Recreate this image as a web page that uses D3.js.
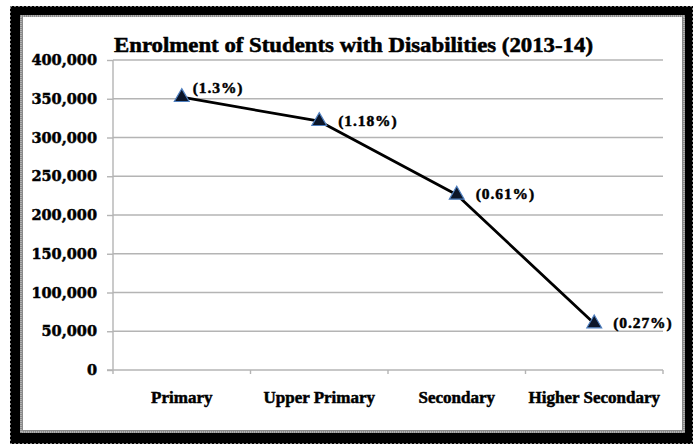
<!DOCTYPE html>
<html>
<head>
<meta charset="utf-8">
<script src="https://cdn.jsdelivr.net/npm/d3@7"></script>
<style>
  html, body { margin: 0; padding: 0; background: #fff; }
  svg { display: block; }
</style>
</head>
<body>
<svg id="chart" width="694" height="448"></svg>
<script>
// Enrolment of students with disabilities by school level, 2013-14
const categories = ["Primary", "Upper Primary", "Secondary", "Higher Secondary"];
const enrolment = [352000, 321000, 226000, 60000];
const shareLabels = ["(1.3%)", "(1.18%)", "(0.61%)", "(0.27%)"];
const yTickValues = [0, 50000, 100000, 150000, 200000, 250000, 300000, 350000, 400000];
const chartTitle = "Enrolment of Students with Disabilities (2013-14)";

const svg = d3.select("#chart");
const plot = { left: 113, right: 663, top: 60, bottom: 370 };
const grid = "#b4b4b4";
const serif = "'Liberation Serif', 'Times New Roman', serif";

// Heavy lettering used throughout the chart
function heavy(sel, size, family) {
  sel.attr("font-family", family || serif)
    .attr("font-weight", "bold")
    .attr("font-size", size)
    .attr("fill", "#000")
    .attr("stroke", "#000")
    .attr("stroke-width", 0.5)
    .attr("paint-order", "stroke");
}

// Picture frame: heavy black band with a fine grey inner rule
svg.append("rect").attr("x", 10).attr("y", 6).attr("width", 683).attr("height", 438)
  .attr("fill", "#000");
svg.append("rect").attr("x", 10.5).attr("y", 6.5).attr("width", 682).attr("height", 437)
  .attr("fill", "none").attr("stroke", "#fff").attr("stroke-width", 1)
  .attr("stroke-dasharray", "1,3");
svg.append("rect").attr("x", 20).attr("y", 15).attr("width", 665).attr("height", 418)
  .attr("fill", "#8a8a8a");
svg.append("rect").attr("x", 21).attr("y", 16).attr("width", 663).attr("height", 416)
  .attr("fill", "none").attr("stroke", "#d8d8d8").attr("stroke-width", 1)
  .attr("stroke-dasharray", "1,1");
svg.append("rect").attr("x", 23).attr("y", 17).attr("width", 659).attr("height", 413)
  .attr("fill", "#fff");

const x = d3.scaleBand().domain(categories).range([plot.left, plot.right]).padding(0);
const y = d3.scaleLinear().domain([0, 400000]).range([plot.bottom, plot.top]);
const cx = c => x(c) + x.bandwidth() / 2;

// Horizontal gridlines
svg.append("g").selectAll("line")
  .data(yTickValues.filter(v => v > 0))
  .join("line")
  .attr("x1", plot.left).attr("x2", plot.right)
  .attr("y1", d => y(d)).attr("y2", d => y(d))
  .attr("stroke", grid).attr("stroke-width", 1.4);

// Y axis
const yAxis = svg.append("g")
  .attr("transform", `translate(${plot.left},0)`)
  .call(d3.axisLeft(y).tickValues(yTickValues).tickFormat(d3.format(","))
    .tickSize(6).tickSizeOuter(0).tickPadding(10));
yAxis.select(".domain").attr("stroke", grid).attr("stroke-width", 1.4)
  .attr("d", `M0,${plot.top}V${plot.bottom + 4}`);
yAxis.selectAll(".tick line").attr("stroke", grid).attr("stroke-width", 1.4);
yAxis.selectAll(".tick text").call(heavy, 14.5, "'DejaVu Serif', serif");

// X axis: baseline, boundary ticks, category labels
svg.append("line")
  .attr("x1", plot.left - 6).attr("x2", plot.right)
  .attr("y1", plot.bottom).attr("y2", plot.bottom)
  .attr("stroke", grid).attr("stroke-width", 1.4);
svg.append("g").selectAll("line")
  .data(categories.map(c => x(c) + x.bandwidth()))
  .join("line")
  .attr("x1", d => d).attr("x2", d => d)
  .attr("y1", plot.bottom).attr("y2", plot.bottom + 4)
  .attr("stroke", grid).attr("stroke-width", 1.4);

const xAxis = svg.append("g")
  .attr("transform", `translate(0,${plot.bottom})`)
  .call(d3.axisBottom(x).tickSize(0).tickPadding(0));
xAxis.select(".domain").remove();
xAxis.selectAll(".tick text")
  .attr("y", 33).attr("dy", 0)
  .call(heavy, 17);

// Title
svg.append("text")
  .attr("x", 114).attr("y", 52)
  .attr("textLength", 479)
  .attr("lengthAdjust", "spacingAndGlyphs")
  .call(heavy, 20)
  .text(chartTitle);

// Series line
const pts = categories.map((c, i) => [cx(c), y(enrolment[i])]);
svg.append("path")
  .attr("d", d3.line()(pts))
  .attr("fill", "none")
  .attr("stroke", "#000")
  .attr("stroke-width", 2.8)
  .attr("stroke-linejoin", "round");

// Triangle markers
svg.append("g").selectAll("path")
  .data(pts)
  .join("path")
  .attr("transform", d => `translate(${d[0]},${d[1]})`)
  .attr("d", d3.symbol(d3.symbolTriangle, 95)())
  .attr("fill", "#0b1528")
  .attr("stroke", "#4f7fbf")
  .attr("stroke-width", 1.2);

// Percentage share labels, to the right of each point
svg.append("g").selectAll("text")
  .data(pts)
  .join("text")
  .attr("x", (d, i) => d[0] + (i === 0 ? 11 : 19))
  .attr("y", (d, i) => d[1] + (i === 0 ? -8 : 1))
  .attr("dominant-baseline", "middle")
  .call(heavy, 15.5)
  .attr("letter-spacing", 0.9)
  .text((d, i) => shareLabels[i]);
</script>
</body>
</html>
